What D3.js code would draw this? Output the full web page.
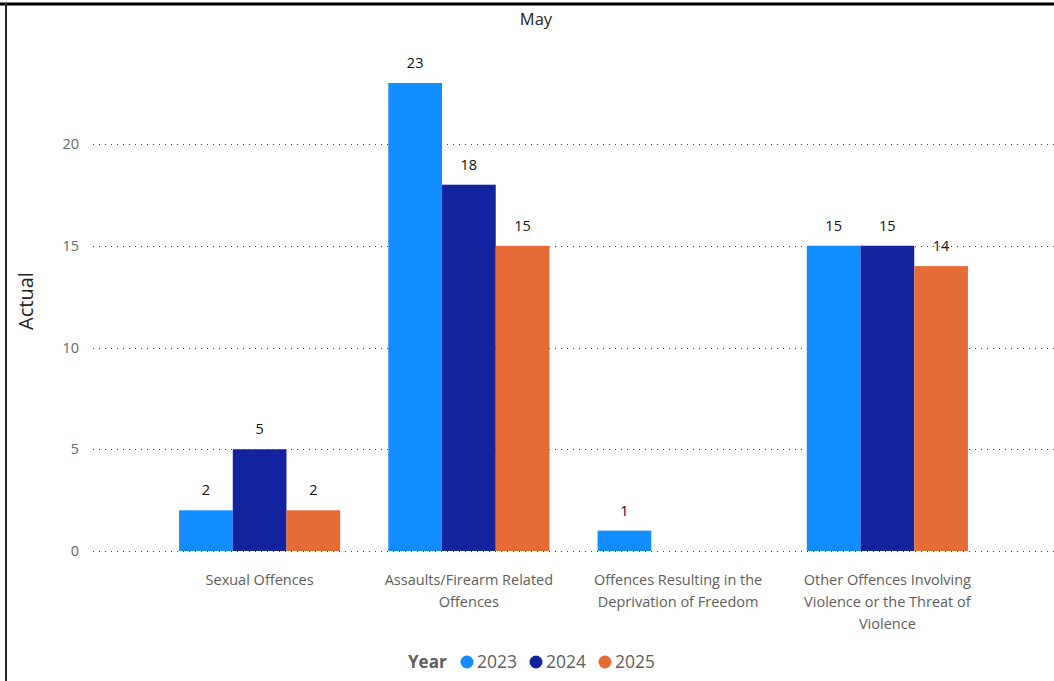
<!DOCTYPE html>
<html>
<head>
<meta charset="utf-8">
<script src="https://cdn.jsdelivr.net/npm/d3@7"></script>
<style>
  body { margin: 0; background: #fff; }
  svg { font-family: "Segoe UI", "Open Sans", sans-serif; display: block; }
</style>
</head>
<body>
<svg id="chart" width="1054" height="681"></svg>
<script>
const categories = [
  "Sexual Offences",
  "Assaults/Firearm Related Offences",
  "Offences Resulting in the Deprivation of Freedom",
  "Other Offences Involving Violence or the Threat of Violence"
];
const years = ["2023", "2024", "2025"];
const values2023 = [2, 23, 1, 15];
const values2024 = [5, 18, null, 15];
const values2025 = [2, 15, null, 14];
const yTicks = [0, 5, 10, 15, 20];
const colors = ["#118DFF", "#12239E", "#E66C37"];

const series = [values2023, values2024, values2025];
const svg = d3.select("#chart");

// frame lines (top and left)
svg.append("rect").attr("x", 0).attr("y", 2).attr("width", 1054).attr("height", 4).attr("fill", "#777");
svg.append("rect").attr("x", 0).attr("y", 3).attr("width", 1054).attr("height", 2).attr("fill", "#000");
svg.append("rect").attr("x", 5).attr("y", 3).attr("width", 2).attr("height", 678).attr("fill", "#222");

const x0 = d3.scaleBand().domain(categories).range([155, 992]).paddingInner(0.23).paddingOuter(0.115);
const x1 = d3.scaleBand().domain(years).range([0, x0.bandwidth()]);
const y = d3.scaleLinear().domain([0, 20]).range([551, 144]);

// gridlines
svg.append("g")
  .selectAll("line")
  .data(yTicks)
  .join("line")
  .attr("x1", 93).attr("x2", 1054)
  .attr("y1", d => Math.round(y(d)) + 0.5).attr("y2", d => Math.round(y(d)) + 0.5)
  .attr("stroke", "#444")
  .attr("stroke-width", 1)
  .attr("stroke-dasharray", "1,5");

// y tick labels
svg.append("g")
  .selectAll("text")
  .data(yTicks)
  .join("text")
  .attr("x", 79).attr("y", d => y(d))
  .attr("dy", "0.35em")
  .attr("text-anchor", "end")
  .style("font-size", "14.5px")
  .style("fill", "#666")
  .text(d => d);

// axis title
svg.append("text")
  .attr("transform", "translate(33,301) rotate(-90)")
  .attr("text-anchor", "middle")
  .style("font-size", "20px")
  .style("fill", "#252423")
  .text("Actual");

// title
svg.append("text")
  .attr("x", 536).attr("y", 25)
  .attr("text-anchor", "middle")
  .style("font-size", "16.5px")
  .style("fill", "#252423")
  .text("May");

// bars
const groups = svg.append("g")
  .selectAll("g")
  .data(categories)
  .join("g")
  .attr("transform", d => `translate(${x0(d)},0)`);

const rows = (d, i) => years.map((yr, k) => ({ yr, k, v: series[k][i] })).filter(e => e.v != null);

groups.selectAll("rect")
  .data(rows)
  .join("rect")
  .attr("x", d => x1(d.yr))
  .attr("width", x1.bandwidth())
  .attr("y", d => y(d.v))
  .attr("height", d => y(0) - y(d.v))
  .attr("fill", d => colors[d.k]);

groups.selectAll("text.value")
  .data(rows)
  .join("text")
  .attr("class", "value")
  .attr("x", d => x1(d.yr) + x1.bandwidth() / 2)
  .attr("y", d => y(d.v) - 20)
  .attr("dy", "0.35em")
  .attr("text-anchor", "middle")
  .style("font-size", "14.5px")
  .style("fill", "#111")
  .text(d => d.v);

// category labels, wrapped
function wrap(text, width) {
  const words = text.split(" ");
  const lines = [];
  let line = "";
  const probe = svg.append("text").style("font-size", "14.5px");
  for (const w of words) {
    const test = line ? line + " " + w : w;
    probe.text(test);
    if (probe.node().getComputedTextLength() > width && line) {
      lines.push(line);
      line = w;
    } else {
      line = test;
    }
  }
  lines.push(line);
  probe.remove();
  return lines;
}

categories.forEach(c => {
  const lines = wrap(c, 185);
  const t = svg.append("text")
    .attr("x", x0(c) + x0.bandwidth() / 2)
    .attr("y", 585)
    .attr("text-anchor", "middle")
    .style("font-size", "14.5px")
    .style("fill", "#605E5C");
  lines.forEach((l, i) => {
    t.append("tspan")
      .attr("x", x0(c) + x0.bandwidth() / 2)
      .attr("dy", i === 0 ? 0 : 22)
      .text(l);
  });
});

// legend
const legend = svg.append("g").attr("transform", "translate(408,668)");
legend.append("text")
  .attr("x", 0).attr("y", 0)
  .style("font-size", "17px")
  .style("font-weight", "bold")
  .style("fill", "#605E5C")
  .text("Year");
const lx = [59, 128, 197];
years.forEach((yr, k) => {
  legend.append("circle")
    .attr("cx", lx[k]).attr("cy", -6).attr("r", 6.5)
    .attr("fill", colors[k]);
  legend.append("text")
    .attr("x", lx[k] + 10).attr("y", 0)
    .style("font-size", "17.5px")
    .style("fill", "#605E5C")
    .text(yr);
});
</script>
</body>
</html>
